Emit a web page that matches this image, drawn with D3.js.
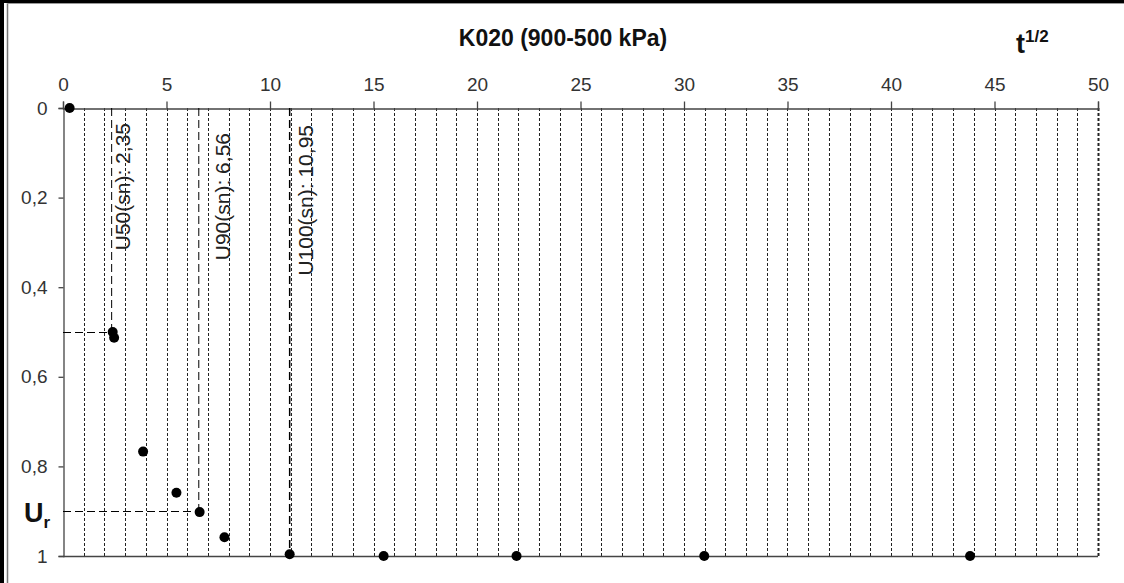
<!DOCTYPE html>
<html>
<head>
<meta charset="utf-8">
<script src="https://cdn.jsdelivr.net/npm/d3@7/dist/d3.min.js"></script>
<style>
  html, body { margin: 0; padding: 0; background: #fff; }
  svg { display: block; font-family: "Liberation Sans", Arial, sans-serif; }
</style>
</head>
<body>
<svg id="chart" width="1124" height="583"></svg>
<script>
// values
const title = "K020 (900-500 kPa)";
const xTicks = [0, 5, 10, 15, 20, 25, 30, 35, 40, 45, 50];
const yTicks = [0, 0.2, 0.4, 0.6, 0.8, 1];
const gridValues = d3.range(1, 51);
const sqrtT = [0.32, 2.4, 2.47, 3.87, 5.48, 6.6, 7.8, 10.95, 15.49, 21.91, 30.98, 43.82];
const ur = [0, 0.5, 0.513, 0.767, 0.859, 0.902, 0.958, 0.996, 1, 1, 1, 1];
const markerNames = ["U50(sn): 2,35", "U90(sn): 6,56", "U100(sn): 10,95"];
const markerT = [2.35, 6.56, 10.95];
const markerU = [0.5, 0.9, 1];

// label placement (pixels, relative to marker line)
const labelDx = [18, 31, 23];
const labelTop = [123, 133, 125];

const svg = d3.select("#chart");
const W = 1124, H = 583;
const mLeft = 63, mRight = 1098, mTop = 108, mBottom = 556;

const x = d3.scaleLinear().domain([0, 50]).range([mLeft, mRight]);
const y = d3.scaleLinear().domain([0, 1]).range([mTop, mBottom]);
const fmt = d => d3.format(".1f")(d).replace(/\.0$/, "").replace(".", ",");

svg.append("rect").attr("width", W).attr("height", H).attr("fill", "#fff");

// frame
svg.append("rect").attr("x", 0).attr("y", 0).attr("width", 4).attr("height", H).attr("fill", "#000");
svg.append("rect").attr("x", 0).attr("y", 0).attr("width", W).attr("height", 3).attr("fill", "#000");
svg.append("line").attr("x1", 7.5).attr("x2", 7.5).attr("y1", 3).attr("y2", H)
  .attr("stroke", "#777").attr("stroke-width", 1.5);
svg.append("line").attr("x1", 7).attr("x2", W).attr("y1", 3.5).attr("y2", 3.5)
  .attr("stroke", "#999").attr("stroke-width", 1);

// gridlines
svg.append("g").selectAll("line").data(gridValues).join("line")
  .attr("x1", d => Math.round(x(d)) + 0.5).attr("x2", d => Math.round(x(d)) + 0.5)
  .attr("y1", mTop).attr("y2", mBottom)
  .attr("stroke", "#222")
  .attr("stroke-width", d => d === 50 ? 2 : 1)
  .attr("stroke-dasharray", "3,2");

// plot bottom border
svg.append("line").attr("x1", mLeft).attr("x2", mRight)
  .attr("y1", mBottom + 0.5).attr("y2", mBottom + 0.5)
  .attr("stroke", "#444").attr("stroke-width", 1.3);

// x axis (top)
const xAxis = svg.append("g").attr("transform", `translate(0,${mTop + 0.5})`)
  .call(d3.axisTop(x).tickValues(xTicks).tickSize(7).tickPadding(11).tickFormat(d => d));
xAxis.select(".domain").attr("stroke", "#444").attr("stroke-width", 1.3);
xAxis.selectAll(".tick line").attr("stroke", "#444").attr("stroke-width", 1.3);
xAxis.selectAll("text").attr("font-size", 19).attr("fill", "#333")
  .attr("font-family", "Liberation Sans, Arial, sans-serif");

// y axis
const yAxis = svg.append("g").attr("transform", `translate(${mLeft + 0.5},0)`)
  .call(d3.axisLeft(y).tickValues(yTicks).tickSize(5).tickPadding(11).tickFormat(fmt));
yAxis.select(".domain").attr("stroke", "#444").attr("stroke-width", 1.3);
yAxis.selectAll(".tick line").attr("stroke", "#444").attr("stroke-width", 1.3);
yAxis.selectAll("text").attr("font-size", 19).attr("fill", "#333")
  .attr("font-family", "Liberation Sans, Arial, sans-serif");

// marker lines
const mk = svg.append("g");
markerT.forEach((t, i) => {
  mk.append("line")
    .attr("x1", x(t)).attr("x2", x(t)).attr("y1", mTop).attr("y2", y(markerU[i]))
    .attr("stroke", "#000").attr("stroke-width", i === 2 ? 1.5 : 1)
    .attr("stroke-dasharray", "8,4");
  if (markerU[i] < 1) {
    mk.append("line")
      .attr("x1", x(0)).attr("x2", x(t)).attr("y1", Math.round(y(markerU[i])) + 0.5).attr("y2", Math.round(y(markerU[i])) + 0.5)
      .attr("stroke", "#000").attr("stroke-width", 1)
      .attr("stroke-dasharray", "8,4");
  }
  mk.append("text")
    .attr("transform", `translate(${x(t) + labelDx[i]},${labelTop[i]}) rotate(-90)`)
    .attr("text-anchor", "end")
    .attr("font-size", 21)
    .attr("fill", "#222")
    .text(markerNames[i]);
});

// points
svg.append("g").selectAll("circle").data(sqrtT).join("circle")
  .attr("cx", d => x(d))
  .attr("cy", (d, i) => y(ur[i]))
  .attr("r", 5)
  .attr("fill", "#000");

// title and axis titles
svg.append("text").attr("x", 563).attr("y", 46).attr("text-anchor", "middle")
  .attr("font-size", 23).attr("font-weight", "bold").attr("fill", "#111").text(title);

const tl = svg.append("text").attr("x", 1016).attr("y", 53)
  .attr("font-weight", "bold").attr("fill", "#111");
tl.append("tspan").attr("font-size", 27).text("t");
tl.append("tspan").attr("font-size", 17).attr("dy", -11).text("1/2");

const ul = svg.append("text").attr("x", 24).attr("y", 522)
  .attr("font-weight", "bold").attr("fill", "#111");
ul.append("tspan").attr("font-size", 27).text("U");
ul.append("tspan").attr("font-size", 17).attr("dy", 6).text("r");
</script>
</body>
</html>
